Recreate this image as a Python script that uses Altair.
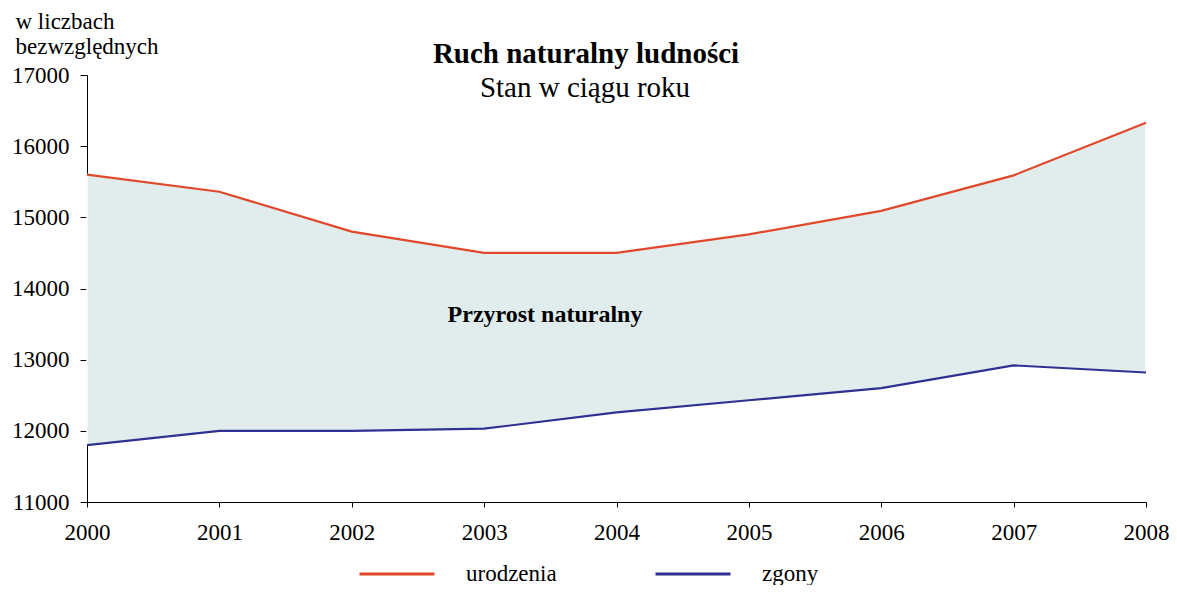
import altair as alt
import pandas as pd

years = [2000, 2001, 2002, 2003, 2004, 2005, 2006, 2007, 2008]
urodzenia = [15600, 15360, 14800, 14500, 14500, 14760, 15090, 15590, 16330]
zgony = [11800, 12000, 12000, 12030, 12260, 12430, 12600, 12920, 12820]

series_names = ["urodzenia", "zgony"]
series_colors = ["#E0482B", "#2E3192"]

FONT = "Liberation Serif"

wide = pd.DataFrame({"rok": years, "urodzenia": urodzenia, "zgony": zgony})
long = pd.DataFrame({
    "rok": years * 2,
    "wartosc": urodzenia + zgony,
    "seria": ["urodzenia"] * len(years) + ["zgony"] * len(years),
})

W, H = 1059, 427

xscale = alt.Scale(domain=[2000, 2008], nice=False, zero=False)
yscale = alt.Scale(domain=[11000, 17000], nice=False, zero=False)

xaxis = alt.Axis(values=years, format="d", title=None, grid=False,
                 labelFont=FONT, labelFontSize=23, labelColor="#000",
                 labelFlush=False, labelOverlap=False,
                 domainColor="#000", tickColor="#000", tickSize=5,
                 labelPadding=14)
yaxis = alt.Axis(values=list(range(11000, 17001, 1000)), format="d",
                 title=["w liczbach", "bezwzględnych"], titleAngle=0,
                 titleAlign="left", titleBaseline="alphabetic",
                 titleX=-72, titleY=-47, titleFont=FONT, titleFontSize=23,
                 titleFontWeight="normal", titleLineHeight=25, titleColor="#000",
                 grid=False, labelFont=FONT, labelFontSize=23, labelColor="#000",
                 labelFlush=False, labelOverlap=False,
                 domainColor="#000", tickColor="#000", tickSize=7, labelPadding=11)

area = alt.Chart(wide).mark_area(color="#E1EDED", stroke="white", strokeWidth=1.5).encode(
    x=alt.X("rok:Q", scale=xscale, axis=xaxis),
    y=alt.Y("zgony:Q", scale=yscale, axis=yaxis),
    y2="urodzenia:Q",
)

lines = alt.Chart(long).mark_line(strokeWidth=2.2).encode(
    x=alt.X("rok:Q", scale=xscale),
    y=alt.Y("wartosc:Q", scale=yscale),
    color=alt.Color("seria:N",
                    scale=alt.Scale(domain=series_names, range=series_colors),
                    legend=alt.Legend(title=None, orient="none", direction="horizontal",
                                      legendX=271, legendY=460,
                                      symbolType="stroke", symbolSize=5625,
                                      symbolStrokeWidth=3, labelFont=FONT,
                                      labelFontSize=23, labelColor="#000",
                                      labelOffset=30, columnPadding=92)),
)

title = alt.Chart(pd.DataFrame({"t": ["Ruch naturalny ludności"]})).mark_text(
    font=FONT, fontSize=29, fontWeight="bold", color="#000", baseline="alphabetic"
).encode(text="t:N", x=alt.value(499), y=alt.value(-12))

subtitle = alt.Chart(pd.DataFrame({"t": ["Stan w ciągu roku"]})).mark_text(
    font=FONT, fontSize=29, color="#000", baseline="alphabetic"
).encode(text="t:N", x=alt.value(498), y=alt.value(22))

label = alt.Chart(pd.DataFrame({"t": ["Przyrost naturalny"]})).mark_text(
    font=FONT, fontSize=24, fontWeight="bold", color="#000", baseline="alphabetic"
).encode(text="t:N", x=alt.value(458), y=alt.value(247))

chart = alt.layer(area, lines, title, subtitle, label).properties(
    width=W, height=H,
    autosize=alt.AutoSizeParams(type="none"),
    padding={"left": 79, "top": 67, "right": 23, "bottom": 83},
).configure_view(stroke=None)

chart.save("out.html", embed_options={"renderer": "svg", "actions": False})
